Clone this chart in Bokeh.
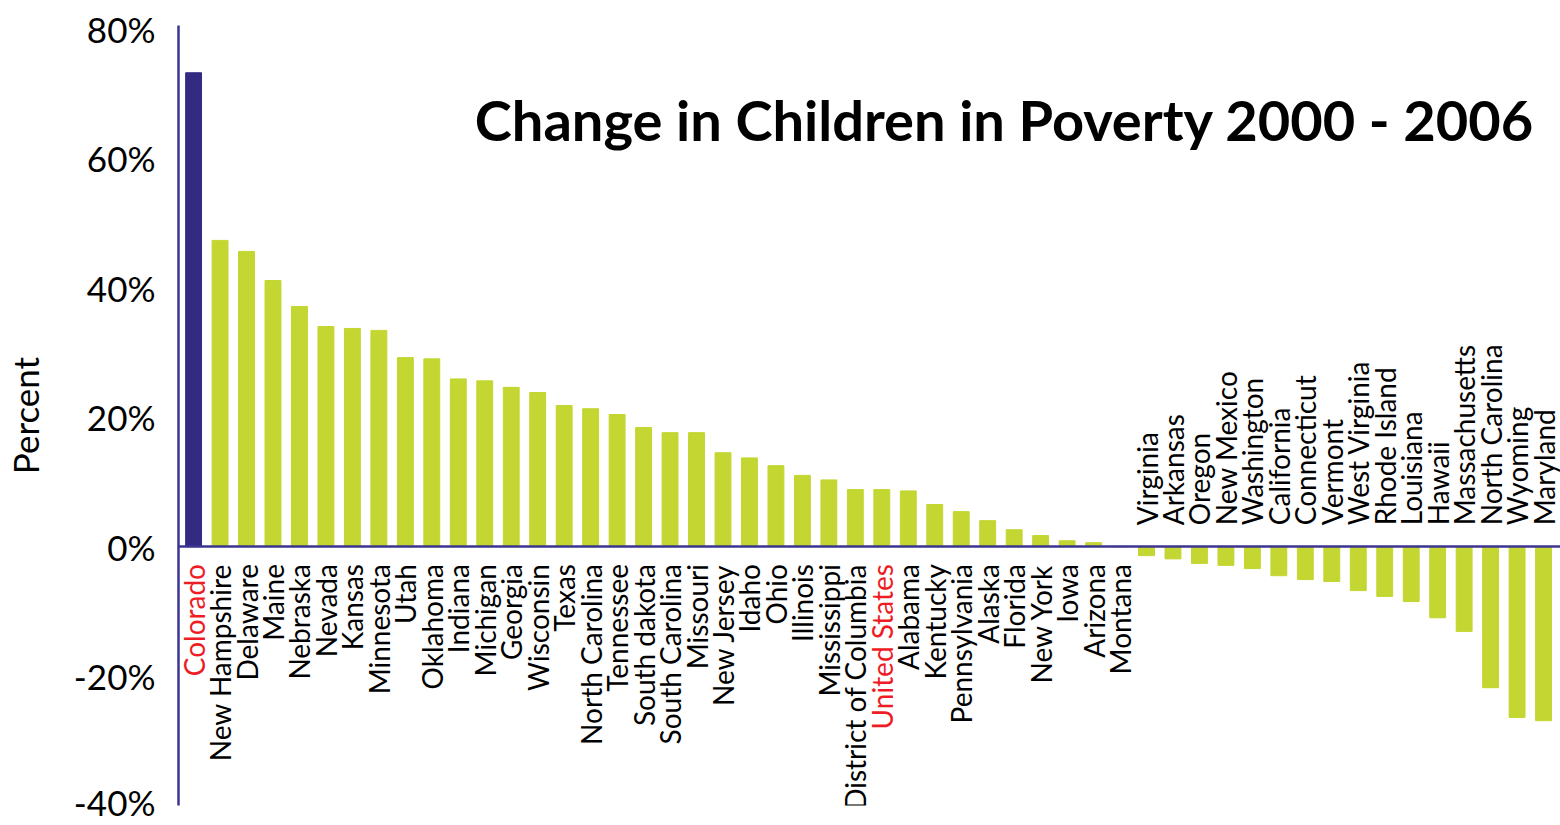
import math
from bokeh.plotting import figure
from bokeh.models import FixedTicker, PrintfTickFormatter, Span, Label, ColumnDataSource
from bokeh.core.properties import value
from bokeh.embed import file_html
from bokeh.resources import INLINE

states = ["Colorado", "New Hampshire", "Delaware", "Maine", "Nebraska", "Nevada", "Kansas",
          "Minnesota", "Utah", "Oklahoma", "Indiana", "Michigan", "Georgia", "Wisconsin",
          "Texas", "North Carolina", "Tennessee", "South dakota", "South Carolina", "Missouri",
          "New Jersey", "Idaho", "Ohio", "Illinois", "Mississippi", "District of Columbia",
          "United States", "Alabama", "Kentucky", "Pennsylvania", "Alaska", "Florida",
          "New York", "Iowa", "Arizona", "Montana", "Virginia", "Arkansas", "Oregon",
          "New Mexico", "Washington", "California", "Connecticut", "Vermont", "West Virginia",
          "Rhode Island", "Louisiana", "Hawaii", "Massachusetts", "North Carolina", "Wyoming",
          "Maryland"]
change_pct = [73.2, 47.3, 45.6, 41.1, 37.1, 34.0, 33.7, 33.4, 29.2, 29.0, 25.9, 25.6, 24.6,
              23.8, 21.8, 21.3, 20.4, 18.4, 17.6, 17.6, 14.5, 13.7, 12.5, 11.0, 10.3, 8.8,
              8.8, 8.6, 6.5, 5.4, 4.0, 2.6, 1.7, 0.9, 0.6, 0.0, -1.4, -1.9, -2.6, -2.9, -3.4,
              -4.5, -5.1, -5.4, -6.8, -7.7, -8.5, -11.0, -13.1, -21.8, -26.4, -26.9]
highlight = ["Colorado", "United States"]
y_ticks = [-40, -20, 0, 20, 40, 60, 80]
title_text = "Change in Children in Poverty 2000 - 2006"

NAVY = "#332a82"
GREEN = "#c3d631"
AXIS = "#3b3590"
RED = "#ee1c25"
FONT = "Lato"

xs = list(range(len(states)))
bar_colors = [NAVY if s == "Colorado" else GREEN for s in states]
label_colors = [RED if s in highlight else "black" for s in states]
label_y = [-2.7 if v >= 0 else 3.3 for v in change_pct]
label_align = ["right" if v >= 0 else "left" for v in change_pct]

src = ColumnDataSource(dict(x=xs, top=change_pct, color=bar_colors, name=states,
                            lcolor=label_colors, ly=label_y, align=label_align))

p = figure(width=1560, height=822, output_backend="svg", toolbar_location=None,
           x_range=(-0.57, 51.64), y_range=(-40, 80.5),
           min_border_left=170, min_border_right=0, min_border_top=25, min_border_bottom=17)
p.background_fill_color = "white"
p.border_fill_color = "white"
p.outline_line_color = None
p.grid.visible = False
p.xaxis.visible = False

p.vbar(x="x", top="top", bottom=0, width=0.6, color="color", source=src)

p.add_layout(Span(location=0, dimension="width", line_color=AXIS, line_width=2.5))

p.text(x="x", y="ly", text="name", angle=math.pi / 2, text_align="align",
       text_baseline="middle", text_color="lcolor", text_font=value(FONT),
       text_font_size="28px", source=src)

ax = p.yaxis[0]
ax.ticker = FixedTicker(ticks=y_ticks)
ax.formatter = PrintfTickFormatter(format="%d%%")
ax.axis_line_color = AXIS
ax.axis_line_width = 2.5
ax.major_tick_line_color = None
ax.minor_tick_line_color = None
ax.major_label_text_font = FONT
ax.major_label_text_font_size = "35px"
ax.major_label_text_color = "black"
ax.major_label_standoff = 17
ax.axis_label = "Percent"
ax.axis_label_text_font = FONT
ax.axis_label_text_font_style = "normal"
ax.axis_label_text_font_size = "35px"
ax.axis_label_text_color = "black"
ax.axis_label_standoff = 25

p.add_layout(Label(x=50.66, y=66.0, text=title_text, text_align="right",
                   text_baseline="alphabetic", text_font=FONT, text_font_style="bold",
                   text_font_size="56px", text_color="black"))

open("out.html", "w").write(file_html(p, INLINE))
